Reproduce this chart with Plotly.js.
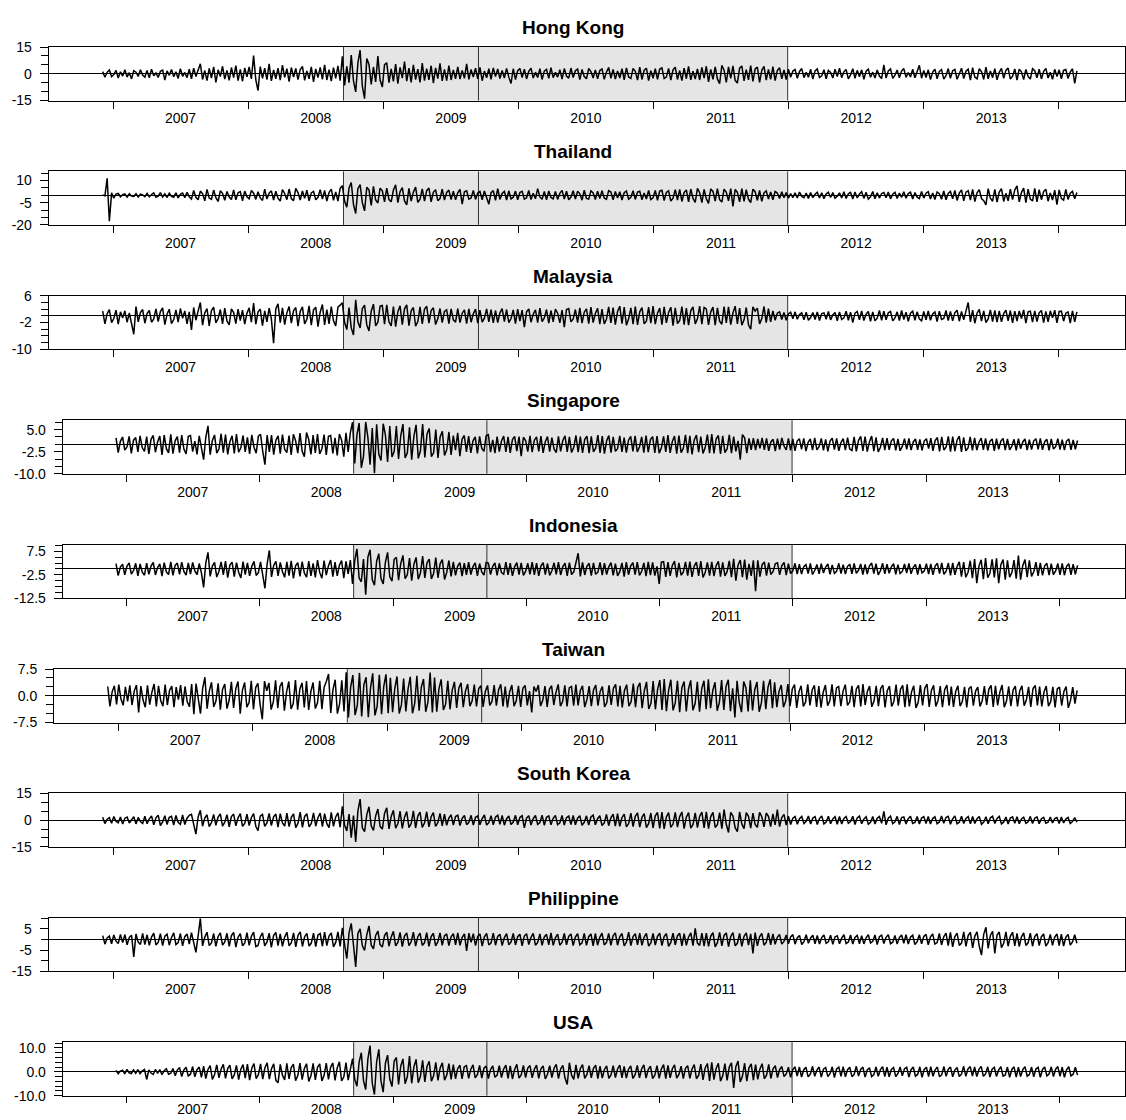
<!DOCTYPE html>
<html>
<head>
<meta charset="utf-8">
<script src="https://cdn.plot.ly/plotly-3.0.1.min.js"></script>
<style>html,body{margin:0;padding:0;background:#fff;}#chart{width:1126px;height:1120px;}</style>
</head>
<body>
<div id="chart"></div>
<script>
// ---- DATA (returns, one reading every 6 days from 2006-12-04) ----
const startDate = '2006-12-04';
const stepDays = 6;
const panelTitles = ['Hong Kong','Thailand','Malaysia','Singapore','Indonesia','Taiwan','South Korea','Philippine','USA'];
const shadeStart = '2008-09-15';
const shadeMid = '2009-09-15';
const shadeEnd = '2011-12-30';

const hongKong = [
1.2,-2.0,0.8,2.1,-1.6,-0.5,1.9,-2.4,1.1,-1.3,
2.3,-1.8,0.6,-2.9,1.7,0.9,-1.5,2.2,-0.7,-1.9,
1.8,-2.3,2.6,-1.2,0.5,-2.1,1.4,2.0,-3.5,1.6,
-0.9,2.4,-1.7,1.1,-2.6,2.8,-1.4,0.7,-2.2,2.5,
-2.8,3.1,-1.5,2.7,5.6,-3.2,1.8,-3.9,3.0,-2.4,
3.9,-4.8,2.2,-1.6,4.2,-3.0,1.9,-3.7,3.5,-2.1,
4.6,-3.8,2.4,-4.2,3.3,-1.7,3.8,-2.9,10.2,-3.5,
-9.4,4.0,-2.6,3.1,-3.3,5.5,-4.0,2.1,-2.8,3.2,
-3.6,4.8,-2.0,2.9,-4.4,3.5,-1.8,3.0,-3.3,2.4,
4.1,-3.7,1.6,-2.9,3.9,-4.5,2.7,-2.2,3.6,-3.1,
5.0,-3.5,2.3,-4.1,3.4,-2.6,4.4,-3.9,
9.8,-6.5,4.2,-5.0,10.5,-3.8,-10.2,6.1,13.2,-7.0,
-14.0,8.5,5.2,-6.0,3.8,-4.6,9.9,-3.5,-7.5,5.1,
6.2,-5.0,2.8,-4.3,5.4,-5.6,3.6,-2.4,6.8,-4.2,
3.1,-4.8,5.0,-3.3,2.6,-4.8,6.0,-3.9,2.9,-3.4,
4.5,-5.2,3.3,-2.7,5.8,-4.0,2.5,-3.8,4.6,-3.5,2.2,-2.9,
3.8,-3.0,1.9,-2.6,5.5,-3.2,2.4,-1.8,3.1,-2.8,
3.6,-3.9,1.5,-2.3,2.9,-3.1,3.3,-1.6,2.7,-2.7,
1.8,-2.4,3.0,-1.9,-5.4,2.8,-3.3,1.7,3.0,-2.2,2.6,-2.9,
1.4,3.1,-2.4,0.9,-2.1,2.8,-3.2,1.5,2.5,-2.6,
3.4,-2.2,0.8,-1.9,2.3,-3.0,2.9,-1.3,-2.5,3.2,
-2.1,1.7,2.6,-3.3,2.4,-1.6,-2.8,3.0,1.2,-2.4,
2.2,-2.9,1.8,2.7,-3.1,0.9,3.5,-2.6,2.4,-3.0,
1.6,-2.4,2.8,-3.4,3.3,-1.8,-2.7,3.0,1.4,-3.6,
3.7,-3.2,2.0,3.1,-3.9,1.7,-2.5,2.8,-3.2,2.6,
3.3,-2.7,-1.9,3.0,-3.6,2.2,3.7,-3.2,1.8,-3.9,
3.1,-2.8,4.2,-3.4,1.5,-3.0,2.7,-3.5,3.6,-2.4,
4.2,-4.6,2.5,-3.1,3.8,-2.9,-5.6,4.7,2.0,-4.9,
3.9,-2.6,4.4,-3.7,-5.2,3.1,4.4,-4.0,2.3,-3.4,
4.6,-4.3,2.7,3.7,-4.8,1.9,4.1,-3.6,2.4,-3.2,
4.0,-3.8,1.8,3.4,-2.9,2.1,-3.3,2.6,-2.0,1.5,
2.4,-2.6,1.3,2.9,-2.2,0.8,-2.0,2.5,-3.0,1.6,
2.7,-2.1,-1.2,2.3,-2.8,1.9,0.7,-2.4,2.6,-1.5,
3.1,-2.2,1.1,2.4,-2.9,-0.6,2.8,-2.5,1.9,-1.7,
2.2,-3.1,1.4,2.6,-2.0,0.9,-2.4,2.1,-1.3,-2.7,
5.0,-2.4,1.6,2.7,-2.6,-0.8,2.1,-2.3,1.5,2.9,
-2.0,0.7,-1.8,2.5,-2.3,1.2,4.7,-2.5,1.8,-2.1,
2.2,-3.3,0.9,2.6,-2.8,1.3,2.3,-3.0,-1.1,2.9,
-2.6,1.7,2.4,-3.1,0.6,3.1,-2.7,1.4,2.5,-3.6,
3.4,-1.9,-2.9,2.8,1.2,-3.2,3.7,-2.8,1.6,-2.2,
2.9,-3.4,0.8,3.0,-2.6,1.9,3.2,-3.0,-1.4,2.7,
-3.5,2.6,1.1,-3.3,2.4,-1.5,-3.0,2.8,1.7,-2.3,
2.6,-2.9,1.3,3.0,-2.4,0.9,-3.1,2.5,-1.6,2.2,
-2.8,1.9,2.4,-2.6,1.0,2.8,-5.4,1.6];

const thailand = [
0.3,-0.4,11.5,-17.5,1.6,-2.0,0.8,1.2,-1.0,0.4,
0.9,-1.3,1.1,-0.6,-0.8,1.0,-1.2,0.7,0.3,-0.9,
1.3,-1.1,0.5,1.6,-1.4,-0.6,1.8,-1.2,0.9,-1.5,
1.4,-0.7,-1.3,1.7,-1.8,0.6,1.5,-1.6,2.0,-1.1,
-2.5,3.2,-1.4,-3.0,2.8,1.1,-3.8,4.0,-1.9,-2.7,
3.5,-1.6,-4.2,3.0,1.3,-3.4,2.6,-1.2,-2.9,3.6,
-3.1,1.7,2.5,-3.7,2.8,-1.0,-2.4,3.3,1.4,-2.8,
2.4,-1.8,-3.5,4.1,-2.6,1.5,3.0,-3.2,2.7,-1.9,
-3.9,3.8,1.2,-3.0,4.2,-2.3,-3.6,4.6,1.8,-3.3,
2.9,-2.1,3.4,-3.7,1.6,2.6,-3.1,-1.4,3.8,-2.5,
3.2,-3.9,1.9,4.1,-3.4,2.2,-4.0,4.6,
6.5,-4.1,-8.0,5.0,8.6,-6.2,-12.3,4.4,7.2,-5.0,
-10.5,5.4,3.6,-6.8,6.0,-3.2,-5.2,4.8,3.0,-4.4,
4.8,-2.9,-4.4,3.5,7.0,-5.0,2.4,5.2,-3.8,-6.5,
4.6,-4.0,2.1,5.5,-4.8,-2.6,4.3,-3.9,3.1,4.9,
-4.5,2.0,3.8,-3.6,-2.2,4.2,-3.3,1.9,3.5,-2.9,2.8,-3.1,
1.6,4.0,-6.0,2.4,3.0,-2.6,-1.8,3.3,-2.8,1.5,
2.5,-3.0,2.9,-2.4,-6.0,1.7,3.1,-3.4,4.5,-2.8,
1.2,2.6,-3.2,3.0,-2.5,-1.3,2.8,-3.0,1.9,2.7,-2.6,-1.7,
3.2,-2.9,1.4,-2.4,4.5,-1.1,-2.7,2.6,-3.1,2.9,
-1.5,-2.4,2.5,-2.8,1.3,3.3,-2.5,2.7,-3.0,-1.2,
3.1,-2.6,2.8,1.0,-3.3,3.4,-2.1,-2.6,3.0,1.6,
-2.9,2.8,-2.2,3.0,-1.8,-2.7,3.1,2.2,-3.0,2.6,
-1.9,2.4,-3.2,1.7,2.9,-2.6,-1.4,3.0,-2.8,2.2,
2.7,-3.1,1.5,-2.5,3.3,-2.9,-1.6,3.2,-3.4,2.8,
3.4,-3.6,1.9,3.0,-3.9,-2.0,3.8,-3.2,4.0,-4.2,
1.8,3.6,-4.5,4.2,-2.1,-4.8,4.6,1.7,-5.0,3.9,
-2.4,-5.5,4.3,2.6,-4.0,4.4,-3.0,-4.6,4.1,2.0,
-3.8,4.5,-7.6,4.0,1.9,-4.4,4.5,-4.2,3.8,-2.6,
-4.9,4.1,2.4,-3.5,3.2,-4.1,1.6,3.0,-2.6,2.2,
-3.0,2.6,1.5,-2.2,2.4,-1.7,1.8,-2.0,1.1,-1.6,
1.6,-1.9,2.2,-0.8,-1.7,1.5,-2.1,1.9,-1.6,0.7,
2.0,-1.8,1.7,-2.3,0.9,2.1,-1.5,1.8,-2.0,-0.6,
1.6,-1.9,2.3,-2.2,1.0,1.9,-2.5,2.2,-1.8,0.8,
2.4,-2.1,2.0,-2.6,-1.1,2.5,-2.3,1.7,-1.9,1.2,
1.9,-1.6,2.2,-2.4,0.7,2.0,-2.2,1.5,-1.4,2.3,
-2.0,1.1,2.1,-2.5,1.8,-1.3,-2.2,2.6,-1.9,1.4,
2.4,-2.6,1.6,-2.8,2.2,1.0,-2.7,2.9,-3.0,1.2,
2.6,-2.4,3.2,-3.5,1.4,3.6,-3.8,2.1,3.1,-3.3,
4.0,-4.3,1.6,3.8,-2.2,-3.6,-6.5,4.5,-1.9,-4.0,
3.9,-4.6,2.2,4.4,-4.2,1.3,-3.8,4.1,-2.9,3.6,
6.3,-4.5,1.8,4.8,-5.0,4.2,-2.6,-3.9,4.6,-4.4,
3.8,-3.0,2.5,4.1,-4.0,1.6,-3.2,3.4,-6.4,3.6,
-2.1,-3.3,3.9,-2.8,1.4,2.7,-2.4,1.9];

const malaysia = [
1.4,-2.4,0.6,1.9,-2.0,-0.8,1.7,-2.5,1.2,-0.6,
1.5,-1.9,0.9,-2.2,-5.5,2.8,-1.8,1.0,1.9,-2.2,
0.7,1.6,-1.9,-0.9,2.1,-1.7,1.3,2.4,-2.6,0.5,
2.0,-2.3,-1.1,1.8,-1.9,2.2,-0.7,1.5,-2.4,1.2,
-4.2,2.5,-1.3,1.4,4.0,-2.8,0.9,2.2,-3.0,1.6,
2.6,-2.1,-0.8,1.9,-2.4,2.3,-1.5,-2.7,2.1,1.0,
-2.3,2.0,-1.4,1.7,-2.5,0.8,2.4,-1.9,3.8,-2.5,
1.2,2.0,-2.9,1.5,-1.8,2.3,-0.9,-8.2,2.1,3.6,
-2.0,2.4,-2.6,0.9,2.8,-2.2,1.6,2.5,-3.1,1.3,
2.7,-2.4,-1.0,3.0,-2.8,1.8,2.6,-3.2,1.1,3.4,
-2.7,1.9,-2.4,2.8,-1.5,-3.0,2.6,3.2,
3.9,-2.0,-4.1,2.5,-3.6,-5.7,4.8,-1.8,-3.6,2.2,
3.2,-2.7,-4.5,1.4,3.5,-3.0,-1.9,2.9,3.1,-2.5,
3.3,-1.8,-3.0,2.8,-3.2,1.2,3.0,-2.6,2.1,3.3,
-2.9,1.5,2.5,-3.1,-1.7,2.7,-2.4,2.0,2.9,-2.2,
1.6,2.4,-2.6,-0.9,2.2,-2.0,1.3,1.8,-2.3,2.1,-1.2,-1.9,
2.2,-2.0,0.8,1.8,-2.3,2.1,-1.9,0.6,2.0,-2.2,
1.7,-1.9,-0.7,2.1,-1.8,1.9,-2.1,1.6,-2.0,0.9,
2.2,-1.7,1.9,-2.0,-0.8,1.8,-2.3,2.0,-1.6,1.7,-3.4,1.2,
2.1,-1.9,0.5,1.8,-2.0,2.3,-1.7,-0.6,1.9,-2.2,
1.6,-1.8,2.0,0.8,-2.1,1.7,-3.4,1.9,2.2,-1.8,
-0.9,1.9,-2.0,2.4,-2.2,1.1,2.1,-2.3,2.6,-2.0,
0.7,2.3,-2.5,2.0,-2.4,-1.0,2.7,-2.1,2.5,-2.6,
1.3,2.9,-2.3,2.6,-2.8,-0.9,2.4,-2.5,2.8,-2.7,
1.2,2.5,-2.4,-1.6,2.6,-2.2,2.9,-2.5,0.8,2.3,
-2.6,2.7,-2.1,1.0,2.6,-2.9,2.4,-2.3,-1.4,2.8,
-2.6,2.3,-2.8,1.5,2.7,-2.4,-0.9,2.9,-2.5,2.5,
2.1,-2.7,1.2,2.6,-2.8,2.4,-1.6,-2.5,2.8,-2.1,
2.7,-2.6,0.9,2.9,-2.4,2.3,-2.8,-1.2,2.5,-2.7,
-4.0,2.7,1.4,2.3,-2.4,-0.8,2.8,-2.0,2.2,-1.8,
1.5,-1.3,0.8,1.2,-1.1,1.0,-1.3,0.6,1.1,-0.9,
1.2,-1.0,0.4,0.9,-1.2,1.1,-1.3,-0.5,1.0,-1.1,
1.2,-1.4,0.7,0.9,-1.0,1.3,-1.2,0.3,1.0,-1.5,
1.2,-1.1,-0.6,1.4,-1.3,1.1,-2.0,0.8,1.3,-1.2,
1.5,-1.4,0.5,1.3,-1.6,1.2,-1.5,-0.7,1.6,-1.3,
1.4,-1.2,0.9,1.3,-1.5,-0.6,1.2,-1.4,1.6,-1.1,
1.1,-1.6,0.8,1.4,-1.3,1.2,-0.9,-1.5,1.3,-1.2,
1.5,-1.3,0.6,1.2,-1.7,1.4,-1.1,-0.8,1.6,-1.4,
1.3,-1.5,0.9,1.7,-1.6,1.3,-1.2,1.4,4.0,-1.8,
1.7,-2.2,0.8,1.9,-1.6,1.5,-2.0,-0.9,1.8,-1.7,
1.6,-1.9,1.5,-1.8,0.7,1.7,-1.5,1.6,-2.1,1.4,
-1.6,1.5,-0.8,1.8,-2.2,1.2,1.4,-1.9,1.5,-1.7,
0.9,1.6,-2.0,1.3,-1.8,1.5,-0.6,1.7,-2.1,1.3,
1.4,-1.6,0.8,1.2,-2.2,1.5,-1.8,1.2];

const singapore = [
2.2,-2.8,1.0,2.5,-2.0,-0.9,2.7,-3.1,1.4,2.3,
-2.6,2.9,-1.2,-2.4,2.6,-3.3,1.7,3.0,-2.7,0.8,
2.8,-3.6,3.1,-1.5,-2.9,3.4,-3.2,1.2,2.6,-2.8,
3.1,-1.6,-3.3,2.7,3.0,-2.5,1.1,-3.4,2.9,-1.8,
-5.2,2.4,6.3,-3.5,1.3,3.2,-3.0,-1.6,3.6,-2.8,
3.3,-3.4,0.9,2.9,-3.1,3.5,-2.7,-1.2,3.0,-2.6,
2.4,-3.3,3.2,-1.0,-3.0,2.8,3.4,-2.4,-6.9,3.1,
-2.6,3.1,-3.5,1.4,2.9,-3.2,3.3,-1.7,-2.8,3.0,
-3.6,3.4,1.2,-3.0,3.8,-2.4,-4.2,4.0,1.6,-3.4,
3.1,-2.9,3.5,-3.3,-1.5,3.3,-3.6,2.7,3.0,-3.1,
2.2,-3.8,3.5,1.4,-4.2,3.9,-2.6,4.0,
7.5,-6.5,3.2,7.2,-8.0,-4.1,7.6,2.4,-6.9,5.5,
-9.8,6.8,-3.4,-5.5,7.0,3.1,-6.0,6.2,-4.3,-2.5,
6.2,-5.0,2.9,6.9,-4.6,-3.0,5.8,-5.2,2.7,6.6,
-4.8,-2.2,6.9,-4.5,3.5,5.4,-4.2,-2.9,5.0,-4.6,
2.6,4.4,-3.8,-1.9,4.2,-3.6,3.0,-2.0,3.9,-4.0,1.7,3.0,
-2.6,2.8,-2.9,1.2,2.5,-3.1,2.7,-1.4,-2.4,2.9,
3.3,-2.7,1.5,-3.0,2.6,-2.5,1.1,2.8,-2.6,2.5,
-2.9,1.6,2.7,-2.3,2.6,-4.0,2.4,1.3,-2.5,2.9,-2.7,1.4,
2.5,-2.4,2.8,-2.9,0.9,2.6,-2.5,2.3,-1.6,-2.8,
2.7,-2.4,1.3,2.9,-2.6,2.5,-2.8,-1.0,3.0,-2.7,
2.6,-2.9,1.7,2.8,-3.0,2.7,-2.6,-1.3,3.1,-2.9,
2.8,-3.2,1.2,3.0,-2.8,2.5,-2.4,-1.5,2.9,-2.6,
2.3,-2.8,1.4,2.7,-2.4,2.9,-2.6,-0.9,2.5,-2.8,
3.0,-2.7,1.6,2.6,-2.9,2.8,-3.0,-1.2,2.7,-2.6,
3.1,-2.9,1.0,2.8,-3.2,3.0,-2.8,-1.4,3.2,-3.0,
2.9,-3.4,1.5,3.1,-2.7,2.6,-3.1,-1.1,3.3,-3.0,
3.5,-3.1,1.8,3.0,-3.3,2.9,-2.8,-1.6,3.2,-3.0,
2.6,-2.4,1.2,-5.2,3.3,2.2,-3.0,2.0,-1.9,2.1,
-2.0,1.8,-1.4,2.2,-1.9,2.0,-2.2,0.8,1.7,-2.3,
1.9,-1.8,2.2,-0.6,-1.9,2.0,-2.1,1.8,-2.2,1.1,
1.9,-1.7,2.0,-2.3,0.7,1.8,-2.0,2.2,-1.9,-0.8,
2.0,-2.1,1.7,-2.4,1.1,2.1,-1.8,2.0,-2.2,0.6,
1.9,-2.0,2.3,-1.6,-2.1,2.5,-2.4,1.3,2.7,-2.2,
2.6,-2.5,0.9,2.8,-2.3,2.4,-2.6,-1.0,2.2,-2.0,
2.1,-1.9,1.2,2.0,-2.1,1.8,-2.2,-0.7,1.9,-1.7,
2.0,-2.0,0.8,1.8,-1.9,1.7,-2.1,1.1,1.9,-1.5,
2.1,-2.2,1.3,2.3,-2.4,2.5,-2.0,-0.9,2.7,-2.5,
2.6,-2.3,1.4,2.8,-2.6,2.4,-2.2,-1.2,2.5,-2.1,
2.2,-2.0,0.7,2.1,-1.9,2.0,-2.1,1.0,1.8,-2.2,
1.9,-1.7,1.1,2.0,-2.0,1.8,-1.9,-0.6,1.7,-2.1,
1.9,-1.5,0.8,1.8,-2.0,1.6,-1.8,1.2,1.9,-1.7,
2.0,-1.9,0.9,1.7,-2.1,1.8,-1.6,-0.8,1.9,-1.8,
1.6,-2.0,1.1,1.8,-1.9,1.5,-1.7,1.3];

const indonesia = [
2.3,-2.9,0.8,2.0,-2.5,1.1,2.6,-2.2,-0.7,2.4,
-3.0,2.1,-1.4,-2.7,2.5,-2.3,1.2,2.8,-2.6,0.6,
2.2,-3.1,2.7,-1.3,-2.4,3.0,-2.8,1.5,2.5,-2.3,
2.9,-1.1,-2.7,2.6,-2.2,2.8,-0.9,-2.5,2.3,-1.7,
-7.9,2.6,7.1,-3.2,1.2,2.8,-3.5,-1.0,3.0,-2.6,
3.3,-3.7,1.6,2.9,-3.3,2.7,-1.4,-3.9,3.1,-2.4,
2.6,-3.0,1.1,3.2,-2.8,-1.6,3.0,-2.4,-8.3,2.1,
7.9,-3.4,1.5,3.2,-3.0,2.8,-1.2,-3.6,3.0,-2.9,
3.4,-4.1,1.3,2.7,-3.2,3.1,-1.8,-3.5,3.3,-3.0,
2.4,-3.6,3.8,-1.5,-4.0,3.6,-2.7,1.4,3.8,-3.3,
2.9,-3.0,1.6,3.6,-4.0,3.2,-2.1,3.8,
-6.4,3.5,8.6,-3.9,-5.5,4.2,-11.0,5.0,8.2,-4.6,
-7.0,3.3,6.5,-4.1,-6.4,2.9,7.1,-3.4,-5.2,4.1,
5.0,-4.8,2.2,5.8,-4.2,-2.5,4.6,-5.0,1.9,4.9,
-4.4,-1.8,5.5,-3.9,2.6,4.2,-4.3,-2.0,4.8,-3.8,
2.3,4.0,-4.5,-1.5,3.6,-3.2,3.0,-2.8,1.2,2.7,-3.1,2.5,
-2.6,2.9,-2.4,1.0,2.6,-3.0,2.3,-1.3,-2.7,2.8,
2.5,-2.4,1.1,2.6,-2.8,2.4,-1.6,-2.3,2.9,-2.6,
2.5,-3.0,0.9,2.7,-2.4,2.6,-2.8,-1.1,2.4,-2.3,2.9,-2.6,
2.5,-3.0,1.2,2.7,-2.4,2.3,-2.8,-0.8,2.6,-2.3,
2.9,-2.6,1.0,2.5,-3.0,2.7,-2.4,-1.3,2.4,6.7,
-3.2,2.8,-2.6,1.1,2.4,-2.9,2.6,-2.3,-1.4,2.8,
-2.7,2.5,-2.4,0.9,2.7,-2.8,2.3,-3.0,-1.2,2.6,
-3.3,2.9,-2.5,1.3,2.7,-2.5,2.9,-2.8,-1.0,2.6,
-3.1,3.0,-2.7,2.8,-2.9,1.1,-6.4,2.9,3.1,-3.4,
2.9,-3.0,1.5,3.3,-3.6,2.6,-2.7,-1.4,3.0,-2.9,
3.1,-3.4,1.2,2.9,-3.0,3.3,-3.6,-1.6,2.8,-2.9,
3.0,-3.1,1.4,3.2,-3.3,2.8,-3.0,-1.2,3.4,-3.5,
4.3,-5.0,1.6,3.8,-3.5,4.0,-4.6,2.2,-3.0,3.7,
-9.6,3.7,-3.3,1.8,3.0,-2.9,2.7,-2.4,-1.1,2.2,
2.6,-2.5,1.4,2.8,-2.7,2.2,-2.0,-0.9,2.4,-2.2,
2.0,-2.2,1.0,1.8,-2.0,2.3,-2.4,-0.7,1.9,-2.1,
2.2,-1.8,0.8,2.1,-2.3,1.7,-1.9,-1.0,2.4,-2.0,
1.8,-2.2,1.1,2.0,-2.1,2.3,-1.9,-0.6,2.1,-2.4,
1.9,-2.2,1.3,2.5,-2.0,2.2,-2.6,-0.8,2.4,-2.1,
2.0,-1.9,0.9,2.2,-2.3,1.8,-2.0,-1.1,2.1,-1.8,
2.3,-2.1,0.7,1.9,-2.4,2.0,-1.7,-0.9,2.2,-2.2,
2.1,-2.5,1.2,2.4,-2.0,2.6,-2.3,-1.0,2.5,-2.8,
2.6,-2.5,1.0,3.0,-3.3,2.9,-3.6,-1.4,3.5,-4.0,
4.2,-6.1,1.2,3.9,-4.4,4.6,-3.8,-1.9,4.1,-3.6,
4.5,-6.1,1.8,4.0,-4.6,3.7,-3.5,-1.6,3.8,-4.2,
5.7,-4.6,1.5,4.0,-3.5,3.7,-3.2,-1.2,2.9,-3.0,
2.6,-2.8,1.3,2.4,-2.7,2.2,-2.5,-0.9,2.3,-2.6,
2.4,-2.7,1.1,2.2,-2.5,2.0,-2.3,1.5];

const taiwan = [
2.6,-3.0,1.1,2.8,-2.4,3.1,-0.9,-2.7,2.5,-1.6,
2.9,-2.6,1.3,3.0,-4.7,2.7,-1.2,-3.2,2.9,-2.5,
1.0,3.3,-3.0,2.8,-1.4,-2.9,3.1,-2.6,1.5,2.7,
-3.2,2.4,-1.1,3.0,-2.8,2.6,-1.7,-3.1,3.3,-5.2,
3.4,-1.6,-5.0,2.1,5.2,-3.6,1.3,3.8,-3.1,-1.5,
3.5,-3.9,1.8,3.3,-3.6,-1.2,3.9,-3.4,2.0,4.0,
-5.0,1.6,3.7,-3.2,-1.9,4.2,-3.8,2.3,3.5,-2.4,
-6.6,4.1,1.4,3.6,-3.9,-1.7,4.3,-3.5,2.6,3.8,
-4.2,1.1,4.0,-3.7,-2.2,4.4,-3.9,1.9,3.6,-3.3,
4.1,-4.0,1.2,3.7,-3.6,-2.0,4.2,-3.8,2.4,4.0,
6.1,-4.8,1.7,4.5,-5.0,-2.3,4.3,-4.4,
6.6,-6.1,2.4,5.8,-5.4,-2.8,6.4,-5.8,3.1,5.2,
-6.0,2.2,6.3,-5.5,-3.0,5.9,-5.2,2.6,6.0,-4.9,
5.0,-4.6,2.1,5.4,-5.0,-2.5,4.8,-4.4,1.9,5.3,
-4.9,-2.2,5.6,-4.2,2.4,4.7,-4.5,-1.8,6.5,-4.7,
5.1,-4.5,2.0,4.6,-4.0,-2.4,4.2,-3.8,1.6,3.9,-3.4,2.2,
3.6,-3.2,1.3,3.3,-2.9,-1.5,3.1,-3.0,2.0,2.8,
-3.1,1.2,2.9,-2.7,-1.6,3.0,-2.8,1.7,3.2,-3.0,
2.6,-3.3,1.1,3.0,-2.9,-1.4,2.8,-3.1,2.1,2.9,-2.7,1.3,
-4.7,2.6,1.2,3.0,-2.9,-1.3,2.7,-3.1,1.8,2.8,
-2.6,1.0,3.2,-2.9,-1.6,2.9,-3.0,2.2,2.6,-2.8,
3.1,-2.7,1.4,2.8,-3.2,-1.1,2.7,-2.9,1.7,3.0,
-2.8,1.2,2.6,-3.1,-1.9,2.9,-2.6,2.1,3.2,-3.0,
2.8,-3.3,1.5,3.1,-2.9,-1.7,3.4,-3.2,2.4,3.6,
-3.5,1.4,3.9,-3.7,-2.1,4.1,-3.8,1.8,4.4,-4.0,
4.7,-4.3,1.6,4.5,-4.1,-2.0,4.2,-4.6,2.3,4.0,
-4.4,1.9,4.3,-4.1,-2.2,3.9,-4.5,2.0,4.2,-3.8,
4.6,-3.5,1.5,3.8,-4.2,-1.8,4.4,-4.0,2.6,4.5,
-4.3,2.1,-6.1,4.2,-1.9,-4.6,4.0,2.2,-4.4,4.3,
-4.1,1.7,3.9,-4.5,-2.0,4.2,-3.8,2.4,4.6,-3.5,
3.8,-3.2,1.3,3.0,-3.2,-1.5,3.3,-2.9,1.9,3.1,
-3.4,1.1,2.8,-3.0,-1.8,3.2,-2.7,1.6,2.9,-3.1,
2.7,-3.3,1.0,3.0,-2.8,-1.4,3.2,-3.0,2.2,2.6,
-2.9,1.3,3.1,-2.7,-1.7,2.8,-3.2,1.9,2.9,-3.0,
3.3,-2.6,1.2,2.7,-3.1,-1.5,2.8,-2.9,2.0,3.0,
-3.3,1.4,2.7,-3.0,-1.6,3.1,-2.8,1.8,2.9,-3.2,
3.2,-3.0,1.1,2.8,-3.4,-1.9,3.0,-2.7,2.1,3.3,
-3.1,1.5,2.9,-3.0,-1.3,2.7,-3.2,1.7,3.0,-2.8,
2.6,-3.1,1.2,2.8,-2.9,-1.6,2.5,-3.3,2.0,2.6,
-2.8,1.3,2.4,-3.0,-1.4,2.7,-2.6,1.8,2.9,-3.1,
2.8,-2.7,1.0,3.0,-3.2,-1.5,2.6,-2.9,1.6,2.7,
-3.0,1.4,2.8,-2.8,-1.2,2.5,-3.1,2.0,2.9,-2.7,
2.6,-3.0,1.1,2.7,-2.9,-1.7,2.5,-3.3,1.9,2.4,
-2.8,1.2,2.6,-3.4,-1.3,2.4,-2.2,1.5];

const southKorea = [
1.6,-1.9,0.5,1.4,-1.7,2.0,-0.6,-1.5,1.8,-2.2,
1.1,1.7,-1.6,0.4,1.9,-2.1,1.5,-0.8,-1.8,2.2,
-2.0,0.7,2.4,-2.6,1.3,2.8,-3.0,-1.0,2.5,-2.4,
1.6,2.2,-2.8,2.6,-1.2,-2.3,2.9,-2.5,1.1,2.7,
3.3,-2.4,-7.8,1.8,5.5,-3.4,1.2,3.0,-3.6,-1.4,
3.2,-2.9,1.7,3.5,-3.3,-1.1,3.1,-3.7,2.0,3.4,
-3.2,1.3,3.6,-3.5,-1.8,3.3,-3.0,1.5,3.7,-3.4,
-5.9,2.2,3.2,-3.5,-1.6,3.8,-3.1,1.9,3.4,-3.9,
3.6,-1.5,-3.3,4.0,-3.6,1.6,3.5,-4.2,-1.7,4.5,
-4.0,2.1,3.6,-3.8,-1.9,4.1,-3.4,1.4,3.9,-3.6,
3.7,-2.0,-4.2,4.4,-3.5,1.8,4.1,-4.0,
7.8,-2.9,-6.0,3.4,-9.8,2.6,-12.2,5.2,11.8,-4.3,
-6.5,3.0,7.5,-3.2,-5.8,2.4,6.2,-3.5,-5.0,3.8,
6.9,-4.9,2.1,5.5,-4.5,-2.0,5.0,-4.6,1.7,4.8,
-4.2,-1.9,5.2,-4.4,2.3,4.5,-4.0,-1.6,4.7,-3.8,
1.9,4.2,-3.5,-1.4,3.8,-3.2,3.4,-2.9,1.2,3.0,-2.7,2.0,
2.8,-3.0,1.0,2.6,-2.5,-1.2,2.7,-2.8,1.6,2.4,
-2.6,0.9,2.9,-2.7,-1.4,2.5,-2.6,1.7,2.8,-2.4,
2.6,-2.8,0.8,2.3,-2.5,-1.1,2.7,-2.6,1.5,2.5,-4.3,1.2,
2.5,-2.7,0.9,2.6,-2.4,-1.3,2.8,-2.9,1.6,2.4,
-2.6,1.0,2.7,-2.5,-1.5,2.6,-2.8,1.4,2.3,-2.5,
2.7,-2.6,1.1,2.5,-2.9,-1.2,2.4,-2.7,1.8,2.8,
-2.6,0.8,2.5,-3.0,-1.6,3.2,-3.1,1.3,3.4,-3.3,
3.6,-3.5,1.5,3.4,-3.8,-1.9,3.9,-3.6,2.1,4.1,
-3.9,1.6,3.7,-4.2,-2.0,4.0,-4.4,2.4,4.3,-4.6,
4.5,-4.9,1.8,4.2,-4.0,-2.2,4.4,-3.9,2.0,4.6,
-4.8,1.7,4.3,-4.5,-2.4,4.1,-4.2,2.2,4.5,-4.3,
4.6,-4.7,2.0,4.4,-4.1,-2.5,4.2,-4.8,5.9,-2.3,
-6.9,4.4,2.3,-4.2,-6.5,4.6,-2.1,-4.8,4.2,2.2,
-4.5,3.9,-2.4,-4.0,4.4,1.9,-3.8,4.0,2.1,-3.6,
3.5,-2.7,5.9,-3.6,1.4,3.2,-2.8,2.2,-2.4,1.1,
2.0,-2.3,0.8,2.1,-1.9,-0.7,2.3,-2.2,1.2,2.0,
-2.5,0.9,2.4,-2.1,-1.1,2.2,-2.0,0.7,1.9,-2.3,
2.1,-2.2,1.0,2.0,-1.8,-0.8,2.2,-2.4,1.3,2.3,
-2.0,0.6,1.9,-2.3,-1.2,2.1,-2.2,1.1,2.0,-1.8,
4.9,-2.6,1.1,2.3,-2.0,-0.9,2.1,-2.4,1.4,1.8,
-2.1,0.8,2.2,-1.9,-1.3,2.0,-2.2,1.2,2.0,-1.9,
2.0,-2.2,0.9,1.9,-2.0,-1.0,2.3,-1.8,1.5,2.1,
-2.3,0.7,2.4,-2.0,-1.2,2.2,-1.9,1.0,2.0,-2.1,
2.0,-1.9,0.8,2.1,-2.3,-1.1,1.9,-2.0,1.3,2.2,
-1.9,0.9,2.1,-2.1,-1.0,1.8,-2.2,1.2,1.9,-1.7,
1.9,-2.0,0.7,1.7,-1.8,-0.9,2.1,-1.9,1.1,1.8,
-2.0,0.8,1.6,-1.7,-1.1,1.8,-1.6,0.9,1.5,-1.9,
1.8,-1.6,0.6,1.5,-1.9,-0.8,1.4,-1.2];

const philippine = [
1.8,-2.2,0.7,1.6,-2.0,2.1,-0.8,-1.9,2.4,-1.5,
2.3,-2.5,1.0,2.0,-8.2,2.6,-1.3,-2.3,2.9,-2.4,
2.2,-2.8,1.1,3.0,-2.6,-1.4,2.7,-2.9,1.6,2.5,
-2.7,0.9,3.1,-2.4,-1.5,2.8,-3.0,1.3,2.6,-2.2,
3.2,-1.4,-6.1,1.7,9.9,-3.0,1.1,3.4,-2.9,-1.6,
2.8,-3.3,1.4,3.1,-2.7,-1.2,2.9,-3.2,1.8,3.3,
-3.6,1.0,2.7,-3.0,-1.7,3.2,-2.8,1.5,3.5,-3.4,
-2.8,1.2,3.1,-3.0,-1.3,3.0,-3.7,1.8,3.3,-2.9,
2.6,-3.2,1.1,3.4,-3.0,-1.5,3.1,-3.5,1.9,3.6,
-3.3,1.3,2.9,-3.1,-1.7,3.0,-3.4,2.1,2.8,-3.2,
3.4,-2.9,1.6,3.1,-3.5,-1.4,3.6,-3.3,
5.5,-2.4,-9.0,3.1,7.6,-2.6,-12.9,2.8,5.0,-3.0,
-5.2,2.2,6.4,-2.7,-4.4,1.9,4.0,-2.4,-3.6,1.8,
3.5,-3.2,1.2,3.8,-3.0,-1.4,3.3,-3.4,1.6,3.1,
-2.9,-1.1,3.4,-3.1,1.3,3.0,-2.8,-1.6,3.2,-3.3,
1.4,2.9,-3.0,-1.2,3.1,-2.8,1.7,2.6,-2.9,1.2,2.7,-2.5,
3.1,-2.8,1.0,2.6,-5.4,3.0,-1.3,2.7,-2.9,1.5,
2.6,-3.1,1.2,2.8,-2.6,-1.6,3.0,-2.7,1.4,2.5,
-2.9,0.9,2.7,-2.5,-1.2,2.8,-2.6,1.3,2.5,-3.0,1.6,2.7,
-2.4,1.0,2.9,-2.7,-1.4,2.6,-2.8,1.2,2.4,-2.6,
3.1,-2.8,0.8,2.5,-2.7,-1.3,2.8,-2.5,1.5,2.6,
-2.9,1.1,2.7,-2.5,-1.6,2.9,-2.8,1.3,2.6,-3.0,
2.8,-2.7,1.0,3.0,-2.6,-1.5,2.9,-2.8,1.7,3.1,
-2.7,1.2,2.8,-3.0,-1.3,3.4,-2.9,1.4,2.7,-2.6,
3.0,-2.8,1.1,2.9,-3.1,-1.6,2.8,-2.7,1.5,3.0,
-2.9,1.3,2.8,-3.2,-1.4,3.0,-2.6,1.8,2.9,-3.0,
2.7,-2.8,1.2,3.1,-2.9,5.2,-1.7,-2.8,3.0,-3.1,
3.0,-3.3,1.6,3.2,-3.5,-1.5,3.3,-3.0,1.9,3.1,
-3.4,1.4,3.2,-3.0,-1.8,2.9,-3.3,1.5,3.1,-2.7,
2.6,-6.6,3.2,-3.0,1.2,2.9,-2.7,-1.4,3.1,-2.5,
2.6,-2.3,1.0,2.4,-2.2,-0.9,2.1,-2.0,1.2,2.3,
-2.2,0.8,1.9,-2.4,-1.0,2.2,-1.8,0.7,2.0,-2.1,
1.9,-2.2,0.9,2.1,-1.8,-1.1,2.0,-2.3,1.2,1.7,
-2.0,0.6,2.2,-1.9,-1.2,2.1,-2.2,1.0,1.9,-2.0,
1.8,-2.1,0.8,2.3,-1.7,-0.9,2.1,-2.4,1.3,2.0,
-1.9,1.0,2.2,-2.0,-1.3,1.9,-2.2,0.9,2.1,-1.8,
2.3,-2.2,1.1,2.0,-2.4,-1.0,2.2,-2.1,1.4,2.4,
-2.5,1.2,2.6,-2.2,-1.5,2.8,-2.6,1.3,3.0,-2.9,
3.3,-3.5,1.4,3.0,-2.8,-1.7,3.6,-3.3,1.8,3.4,
-4.0,1.6,3.6,-3.2,-7.4,2.4,5.7,-4.2,1.9,3.8,
-6.6,2.1,3.5,-3.9,-1.8,3.6,-3.2,1.5,3.4,-3.0,
2.9,-3.3,1.2,3.1,-2.8,-1.6,3.0,-3.2,1.4,2.7,
-2.9,1.3,2.6,-3.1,-1.5,2.4,-2.8,1.1,2.6,-2.9,
2.5,-3.1,1.0,2.4,-2.7,-1.2,2.2,-1.8];

const usa = [
0.6,-0.8,0.3,0.7,-0.9,1.0,-0.4,-0.7,0.8,-0.6,
0.9,-0.8,0.4,1.0,-3.2,0.8,-0.5,-1.1,1.0,-0.7,
0.9,-1.2,0.5,1.3,-1.0,-0.6,1.4,-1.6,0.7,1.8,
-2.0,0.8,1.9,-1.7,-1.0,2.2,-2.1,0.9,2.0,-2.3,
2.4,-2.8,1.0,2.6,-3.2,-1.1,2.9,-2.5,1.2,3.1,
-2.7,1.4,2.8,-3.0,-1.3,2.7,-3.3,1.1,3.0,-2.6,
3.2,-3.5,1.5,3.4,-2.9,-1.2,3.3,-3.1,1.7,3.8,
-3.1,1.3,3.3,-3.6,-4.6,3.1,-1.4,-3.4,3.5,-3.0,
1.8,3.2,-3.7,-1.6,3.6,-3.3,1.4,3.4,-4.0,-1.7,
3.5,-3.4,1.9,3.3,-3.8,-1.5,3.6,-3.2,2.0,3.7,
-3.6,1.6,4.2,-3.8,-2.2,3.9,-3.5,1.8,
5.5,-3.2,-6.0,4.1,8.0,-3.7,-7.4,5.3,11.0,-4.8,
-9.5,4.2,9.4,-3.9,-8.5,3.6,7.0,-3.1,-6.2,4.4,
6.0,-5.3,2.4,5.4,-5.0,-2.1,6.6,-4.8,2.0,5.2,
-4.6,-1.9,4.8,-4.2,2.2,4.4,-3.9,-1.7,4.0,-3.6,
1.6,3.8,-3.5,-1.4,3.4,-3.2,3.0,-2.9,1.3,2.8,-3.0,2.1,
2.6,-2.7,1.1,2.9,-2.5,-1.2,2.7,-2.6,1.5,2.4,
-2.8,1.0,2.5,-2.3,-1.4,2.6,-2.4,1.2,2.8,-2.7,
2.5,-3.0,1.0,3.1,-2.6,-1.3,2.7,-2.4,1.6,2.6,-2.5,1.1,
2.8,-2.7,1.3,2.5,-3.0,-1.0,2.6,-2.4,1.5,3.1,
-2.8,1.2,2.7,-2.6,-5.3,3.8,-1.4,-3.2,2.9,-2.7,
1.4,3.0,-2.8,-1.1,2.6,-2.5,1.5,2.8,-2.9,2.4,
-2.6,1.0,2.5,-2.7,-1.3,2.6,-2.4,1.2,2.8,-2.5,
2.3,-2.6,1.1,2.5,-2.8,-1.2,2.7,-2.5,1.3,2.9,
-2.6,0.9,2.4,-2.8,-1.4,2.6,-2.7,1.2,3.0,-2.9,
2.7,-2.5,1.3,2.9,-2.6,-1.1,2.4,-2.8,1.5,2.6,
-2.7,1.2,3.0,-2.9,-1.5,3.2,-3.4,1.6,3.5,-3.8,
4.0,-3.3,1.4,3.6,-3.9,-1.7,3.4,-3.6,2.0,3.8,
-6.7,2.2,4.5,-4.2,-1.9,3.6,-3.9,1.7,3.3,-3.5,
3.0,-3.2,1.2,3.4,-2.9,-1.4,3.1,-2.8,1.3,2.6,
-2.4,1.0,2.2,-2.0,-0.9,1.9,-2.3,0.8,2.1,-1.8,
2.0,-2.2,0.9,1.9,-2.1,-1.0,2.3,-1.9,0.7,2.0,
-2.2,1.1,1.8,-2.0,-0.8,2.1,-2.4,1.2,2.0,-1.9,
2.2,-2.1,0.9,1.9,-2.0,-1.1,2.3,-1.8,1.0,2.0,
-2.2,0.8,1.7,-2.0,-1.2,2.1,-1.9,0.9,2.2,-2.0,
1.9,-2.1,1.0,1.8,-2.0,-0.7,2.0,-1.7,1.3,1.9,
-2.2,0.9,2.0,-1.8,-1.1,2.1,-2.3,1.0,1.9,-2.0,
2.2,-1.9,0.8,2.0,-2.1,-1.2,2.2,-1.9,1.1,2.0,
-2.1,0.7,1.8,-2.0,-1.0,2.3,-1.9,1.2,2.2,-1.8,
2.0,-2.0,1.0,2.3,-1.9,-0.9,2.1,-2.2,1.1,1.9,
-2.0,0.8,2.2,-1.8,-1.3,2.0,-2.3,1.0,2.1,-2.2,
1.9,-2.0,0.9,2.2,-1.8,-1.1,2.0,-2.1,1.2,1.9,
-2.3,1.0,2.0,-1.7,-0.9,2.1,-2.0,1.1,2.2,-1.9,
2.0,-2.3,0.8,2.1,-1.7,-1.0,1.9,-1.4];

// y tick values / labels per panel
const yTickVals = [[-15,0,15],[-20,-5,10],[-10,-2,6],[-10,-2.5,5],[-12.5,-2.5,7.5],[-7.5,0,7.5],[-15,0,15],[-15,-5,5],[-10,0,10]];
const yTickText = [['-15','0','15'],['-20','-5','10'],['-10','-2','6'],['-10.0','-2.5','5.0'],['-12.5','-2.5','7.5'],['-7.5','0.0','7.5'],['-15','0','15'],['-15','-5','5'],['-10.0','0.0','10.0']];

// ---- LAYOUT SETTINGS ----
const seriesList = [hongKong, thailand, malaysia, singapore, indonesia, taiwan, southKorea, philippine, usa];
const yRanges = [[-15,15],[-20,16.1],[-10,6],[-10,8.2],[-12.5,10.4],[-7.5,7.5],[-15,15],[-15,10.2],[-10,12.4]];
const minorStep = [5,5,2,2.5,2.5,2.5,5,5,2];
const leftPx = [48.7,48.7,48.7,62.7,62.7,54,48.7,48.7,62.7];
const W = 1126, H = 1120;
const topPx0 = 47, panelStep = 124.4, boxH = 53.5, rightPx = 1125;
const xRange = ['2006-07-11','2014-06-29'];
const FONT = 'Arial, "Liberation Sans", Helvetica, sans-serif';

const traces = [];
const layout = {
  width: W, height: H,
  margin: {l:0, r:0, t:0, b:0},
  paper_bgcolor: '#fff', plot_bgcolor: '#fff',
  showlegend: false,
  font: {family: FONT, color: '#000', size: 14},
  shapes: [], annotations: []
};

seriesList.forEach((vals, k) => {
  const n = k + 1;
  const last = (k === seriesList.length - 1);
  const xa = 'x' + (n === 1 ? '' : n), ya = 'y' + (n === 1 ? '' : n);
  const xKey = 'xaxis' + (n === 1 ? '' : n), yKey = 'yaxis' + (n === 1 ? '' : n);
  const top = topPx0 + panelStep * k, bot = top + boxH;
  traces.push({
    type: 'scatter', mode: 'lines', xaxis: xa, yaxis: ya,
    x0: startDate, dx: stepDays * 86400000, y: vals,
    line: {color: '#000', width: 1.5}, hoverinfo: 'skip'
  });
  layout[xKey] = {
    type: 'date', domain: [leftPx[k] / W, rightPx / W], range: xRange, anchor: ya,
    tickmode: 'linear', tick0: '2007-01-01', dtick: 'M12', ticklabelmode: 'period', tickformat: '%Y',
    ticks: 'outside', ticklen: last ? 6 : 7, tickcolor: '#000', tickwidth: 1,
    ticklabelstandoff: last ? -6 : -2,
    showline: true, linecolor: '#000', linewidth: 1, mirror: true,
    showgrid: false, zeroline: false, fixedrange: true,
    tickfont: {family: FONT, size: 14, color: '#000'}
  };
  layout[yKey] = {
    domain: [1 - bot / H, 1 - top / H], range: yRanges[k], anchor: xa,
    tickmode: 'array', tickvals: yTickVals[k], ticktext: yTickText[k],
    ticks: 'outside', ticklen: 8, tickcolor: '#000', tickwidth: 1, ticklabelstandoff: 5,
    minor: {tickmode: 'linear', tick0: yRanges[k][0], dtick: minorStep[k], ticks: 'outside', ticklen: 7, tickcolor: '#000', tickwidth: 1, showgrid: false},
    showline: true, linecolor: '#000', linewidth: 1, mirror: true,
    showgrid: false, zeroline: true, zerolinecolor: '#000', zerolinewidth: 1, fixedrange: true,
    tickfont: {family: FONT, size: 14, color: '#000'}
  };
  layout.shapes.push({type: 'rect', xref: xa, yref: ya + ' domain', x0: shadeStart, x1: shadeEnd, y0: 0, y1: 1,
    fillcolor: '#e5e5e5', line: {width: 0}, layer: 'below'});
  [shadeStart, shadeMid, shadeEnd].forEach(d => {
    layout.shapes.push({type: 'line', xref: xa, yref: ya + ' domain', x0: d, x1: d, y0: 0, y1: 1,
      line: {color: '#333', width: 1}, layer: 'below'});
  });
  layout.annotations.push({
    text: panelTitles[k], xref: 'paper', yref: 'paper', x: 573 / W, y: 1 - (top - 19.5) / H,
    xanchor: 'center', yanchor: 'middle', showarrow: false,
    font: {family: FONT, size: 19, color: '#000', weight: 'bold'}
  });
});

Plotly.newPlot('chart', traces, layout, {staticPlot: true, displayModeBar: false});
</script>
</body>
</html>
